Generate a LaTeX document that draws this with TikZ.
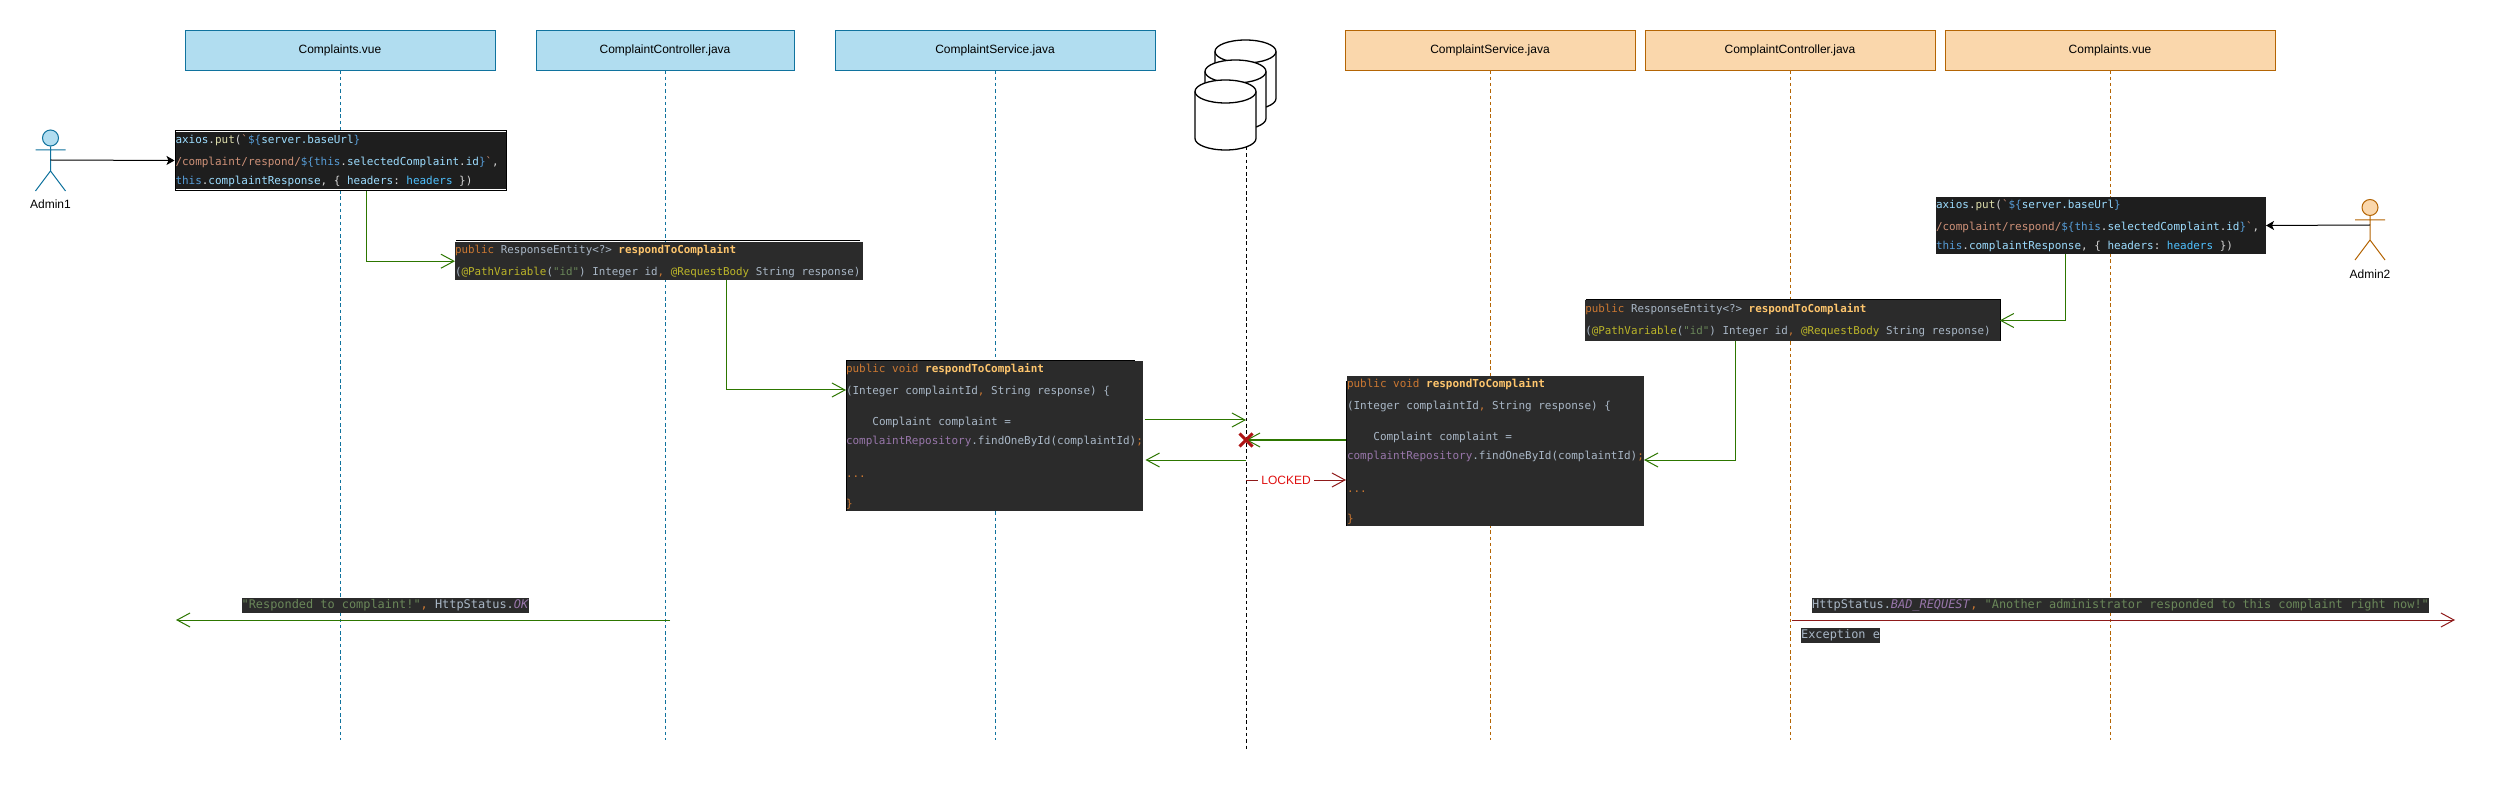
\documentclass[tikz,border=0pt]{standalone}
\usepackage{fontspec}
\setmainfont{Liberation Sans}
\setmonofont{DejaVu Sans Mono}
\usetikzlibrary{arrows.meta,shapes.geometric,shapes.misc,calc}
\definecolor{blueF}{HTML}{B1DDF0}
\definecolor{blueS}{HTML}{10739E}
\definecolor{orF}{HTML}{FAD7AC}
\definecolor{orS}{HTML}{B46504}
\definecolor{grn}{HTML}{2D7600}
\definecolor{dred}{HTML}{8F1A1A}
\definecolor{lockr}{HTML}{E01010}
\definecolor{xred}{HTML}{AE1414}
\definecolor{vsbg}{HTML}{1E1E1E}
\definecolor{idbg}{HTML}{2B2B2B}
\definecolor{cKw}{HTML}{CC7832}
\definecolor{cTx}{HTML}{A9B7C6}
\definecolor{cMe}{HTML}{FFC66D}
\definecolor{cSt}{HTML}{6A8759}
\definecolor{cAn}{HTML}{BBB529}
\definecolor{cFi}{HTML}{9876AA}
\definecolor{vVa}{HTML}{9CDCFE}
\definecolor{vFn}{HTML}{DCDCAA}
\definecolor{vSt}{HTML}{CE9178}
\definecolor{vKw}{HTML}{569CD6}
\definecolor{vCo}{HTML}{4FC1FF}
\definecolor{vTx}{HTML}{D4D4D4}
\newcommand\tK[1]{\textcolor{cKw}{#1}}
\newcommand\tT[1]{\textcolor{cTx}{#1}}
\newcommand\tM[1]{\textcolor{cMe}{\textbf{#1}}}
\newcommand\tS[1]{\textcolor{cSt}{#1}}
\newcommand\tA[1]{\textcolor{cAn}{#1}}
\newcommand\tF[1]{\textcolor{cFi}{#1}}
\newcommand\tI[1]{\textcolor{cFi}{\textit{#1}}}
\newcommand\vV[1]{\textcolor{vVa}{#1}}
\newcommand\vF[1]{\textcolor{vFn}{#1}}
\newcommand\vS[1]{\textcolor{vSt}{#1}}
\newcommand\vK[1]{\textcolor{vKw}{#1}}
\newcommand\vC[1]{\textcolor{vCo}{#1}}
\newcommand\vT[1]{\textcolor{vTx}{#1}}
\newcommand\fixsp{\spaceskip=6.6pt\relax\xspaceskip=6.6pt\relax\vspace*{3pt}}
\newcommand\axiosText{\fixsp\vV{axios}\vT{.}\vF{put}\vT{(}\vS{`}\vK{\$\{}\vV{server.baseUrl}\vK{\}}\\
\vS{/complaint/respond/}\vK{\$\{this}\vT{.}\vV{selectedComplaint}\vT{.}\vV{id}\vK{\}}\vS{`}\vT{,}\\
\vK{this}\vT{.}\vV{complaintResponse}\vT{,} \vT{\{} \vV{headers}\vT{:} \vC{headers} \vT{\})}}
\newcommand\ctrlText{\spaceskip=6.54pt\relax\xspaceskip=6.54pt\relax\vspace*{3pt}\tK{public} \tT{ResponseEntity<?>} \tM{respondToComplaint}\\
\tT{(}\tA{@PathVariable}\tT{(}\tS{"id"}\tT{)} \tT{Integer} \tT{id}\tK{,} \tA{@RequestBody} \tT{String} \tT{response)}}
\newcommand\servText{\fixsp\tK{public} \tK{void} \tM{respondToComplaint}\\
\tT{(Integer} \tT{complaintId}\tK{,} \tT{String} \tT{response)} \tT{\{}\\[12pt]
\hspace*{26.4pt}\tT{Complaint} \tT{complaint} \tT{=}\\
\tF{complaintRepository}\tT{.findOneById(complaintId)}\tK{;}\\[14pt]
\tK{...}\\[11pt]
\tK{\}}}
\tikzset{
 x=1pt,y=-1pt,
 hdrB/.style={draw=blueS,fill=blueF,line width=0.8pt,minimum width=#1,minimum height=40pt,inner sep=0pt,font=\fontsize{12}{14}\selectfont},
 hdrO/.style={draw=orS,fill=orF,line width=0.8pt,minimum width=#1,minimum height=40pt,inner sep=0pt,font=\fontsize{12}{14}\selectfont},
 lifeB/.style={draw=blueS,line width=1pt,dash pattern=on 3.5pt off 2.8pt},
 lifeO/.style={draw=orS,line width=1pt,dash pattern=on 3.5pt off 2.8pt},
 lifeK/.style={draw=black,line width=1pt,dash pattern=on 3.5pt off 2.8pt},
 codebox/.style 2 args={fill=#1,text width=#2,inner sep=0pt,align=left,outer sep=0pt,
   font=\fontsize{10.96}{19}\selectfont\ttfamily},
 ctrlfont/.style={font=\fontsize{10.86}{19}\selectfont\ttfamily},
 msgbar/.style={fill=idbg,inner sep=0pt,minimum height=15pt,outer sep=0pt,font=\fontsize{11.9}{15}\selectfont\ttfamily},
 gl/.style={draw=grn,line width=1pt,-{Straight Barb[length=13pt,width=14pt,line width=1pt]}},
 rl/.style={draw=dred,line width=1pt,-{Straight Barb[length=13pt,width=14pt,line width=1pt]}},
 kl/.style={draw=black,line width=1pt,-{Stealth[length=8pt,width=9pt,inset=2pt]}},
 actorlabel/.style={font=\fontsize{12}{14}\selectfont,inner sep=0pt},
 dbpic/.pic={
   \path[draw=black,fill=white,line width=1.3pt,line join=round]
     (-30.5,11.5) -- (-30.5,58.5) arc[start angle=180,end angle=360,x radius=30.5pt,y radius=11.5pt]
     -- (30.5,11.5) arc[start angle=0,end angle=180,x radius=30.5pt,y radius=11.5pt] -- cycle;
   \draw[black,line width=1.3pt] (-30.5,11.5) arc[start angle=180,end angle=360,x radius=30.5pt,y radius=11.5pt];
   \coordinate (-foot) at (20.5,67);
 },
}
\begin{document}
\begin{tikzpicture}
\useasboundingbox (0,0) rectangle (2501,791);
\fill[white] (0,0) rectangle (2501,791);
% headers
\node[hdrB=310pt] (h1) at (340,50) {Complaints.vue};
\node[hdrB=258pt] (h2) at (665,50) {ComplaintController.java};
\node[hdrB=320pt] (h3) at (995,50) {ComplaintService.java};
\node[hdrO=290pt] (h4) at (1490,50) {ComplaintService.java};
\node[hdrO=290pt] (h5) at (1790,50) {ComplaintController.java};
\node[hdrO=330pt] (h6) at (2110,50) {Complaints.vue};
% lifeline ends
\coordinate (e1) at (340,740);
\coordinate (e2) at (665,740);
\coordinate (e3) at (995,740);
\coordinate (e4) at (1490,740);
\coordinate (e5) at (1790,740);
\coordinate (e6) at (2110,740);
\coordinate (e7) at (1246,750);
\draw[lifeB] (h1.south) -- (e1);
\draw[lifeB] (h2.south) -- (e2);
\draw[lifeB] (h3.south) -- (e3);
\draw[lifeO] (h4.south) -- (e4);
\draw[lifeO] (h5.south) -- (e5);
\draw[lifeO] (h6.south) -- (e6);
% database
\pic (db3) at (1245.5,40) {dbpic};
\pic (db2) at (1235.5,60) {dbpic};
\pic (db1) at (1225.5,80) {dbpic};
\draw[lifeK] (db1-foot) -- (e7);
% actors
\node[draw=blueS,fill=blueF,ellipse,line width=1pt,minimum width=16pt,minimum height=16pt,inner sep=0pt] (a1head) at (50.5,138) {};
\coordinate (a1hip) at (50.5,171);
\coordinate (a1mid) at (50.5,160);
\draw[blueS,line width=1pt] (a1head.south) -- (a1hip) (35.5,150) -- (65.5,150) (35.5,191) -- (a1hip) -- (65.5,191);
\node[actorlabel] (a1label) at (50.5,204) {Admin1};
\node[draw=orS,fill=orF,ellipse,line width=1pt,minimum width=16pt,minimum height=16pt,inner sep=0pt] (a2head) at (2370,207.5) {};
\coordinate (a2hip) at (2370,240);
\coordinate (a2mid) at (2370,225);
\draw[orS,line width=1pt] (a2head.south) -- (a2hip) (2355,220) -- (2385,220) (2355,260) -- (a2hip) -- (2385,260);
\node[actorlabel] (a2label) at (2370,274) {Admin2};
% code boxes
\node[draw=black,fill=white,line width=1pt,minimum width=331pt,minimum height=60pt,inner sep=0pt] (b1f) at (340.5,160.5) {};
\node[codebox={vsbg}{330pt},minimum height=56.5pt] (b1) at (340.5,160.5) {\axiosText};
\node[codebox={idbg}{408pt},ctrlfont,minimum height=38.5pt] (b2) at (659,261.2) {\ctrlText};
\node[codebox={idbg}{297pt},minimum height=150pt] (b3) at (994.5,436) {\servText};
\node[codebox={idbg}{297pt},minimum height=150pt] (b4) at (1495.5,451) {\servText};
\node[codebox={vsbg}{330pt},minimum height=57pt] (b5) at (2101,225.5) {\axiosText};
\node[codebox={idbg}{414.5pt},ctrlfont,minimum height=41pt] (b6) at (1792.5,320.5) {\ctrlText};
% partial black outlines
\draw[black,line width=1pt] (846,511) -- (846,361) -- (1135,361);
\draw[black,line width=1pt] (456,240.3) -- (860,240.3);
\draw[black,line width=1pt] (1346,526) -- (1346,381);
\draw[black,line width=1pt] (1585.5,300) -- (2000,300) -- (2000,341);
% connectors
\draw[kl] (a1mid) -- (b1f.west);
\draw[kl] (a2mid) -- (b5.east);
\draw[gl] ([xshift=25.5pt]b1f.south) |- (b2.west);
\draw[gl] ([xshift=67pt]b2.south) |- ([yshift=46pt]b3.west);
\draw[gl] ([xshift=-36pt]b5.south) |- (b6.east);
\draw[gl] ([xshift=-57.5pt]b6.south) |- ([yshift=-9pt]b4.east);
\coordinate (q1) at (1246,420);
\coordinate (q2) at (1246,440);
\coordinate (q3) at (1246,460);
\coordinate (q4) at (1246,480);
\draw[gl] ([xshift=1.5pt,yshift=16pt]b3.east) -- (q1);
\draw[gl] ([xshift=-1pt]b4.west |- q2) -- (q2);
\draw[gl] (q3) -- ([xshift=2.5pt,yshift=-24pt]b3.east);
\draw[rl] (q4) -- ([xshift=-1pt,yshift=-29pt]b4.west) node[pos=0.4,fill=white,inner sep=3pt,text=lockr,font=\fontsize{12}{14}\selectfont] (locked) {LOCKED};
\node[cross out,draw=xred,line width=3pt,minimum width=10pt,minimum height=10pt,inner sep=0pt] (xmark) at (q2) {};
% return messages
\coordinate (r1s) at (670,620);
\coordinate (r1e) at (176,620);
\node[msgbar,minimum width=286.5pt] (okmsg) at (385.25,605.5) {\tS{"Responded to complaint!"}\tK{,} \tT{HttpStatus.}\tI{OK}};
\draw[gl] (r1s) -- (r1e);
\coordinate (r2s) at (1792,620);
\coordinate (r2e) at (2455,620);
\node[msgbar,minimum width=617pt] (badmsg) at (2120.5,605.5) {\tT{HttpStatus.}\tI{BAD\_REQUEST}\tK{,} \tS{"Another administrator responded to this complaint right now!"}};
\draw[rl] (r2s) -- (r2e);
\node[msgbar,minimum width=79pt] (exmsg) at (1840.5,635.5) {\tT{Exception e}};
\end{tikzpicture}
\end{document}
